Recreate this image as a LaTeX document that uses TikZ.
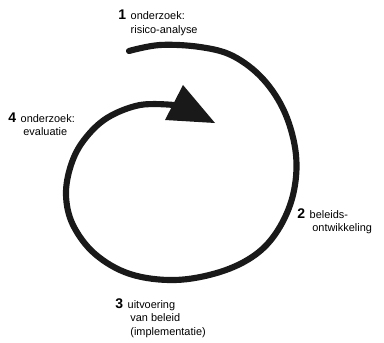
\documentclass[tikz,border=0pt]{standalone}
\usepackage{fontspec}
\setmainfont{Liberation Sans}
\newcommand\nr[1]{{\fontsize{10.5}{12}\selectfont\bfseries #1}}
\tikzset{
  lbl/.style={anchor=base west,inner sep=0pt,font=\fontsize{8.2}{10.2}\selectfont},
  loop/.style={line width=4.6pt,line cap=round,color=black!90}
}
\begin{document}
\begin{tikzpicture}[x=0.75pt,y=-0.75pt]
\useasboundingbox (0,0) rectangle (384,342);
% the cycle
\draw[loop] plot[smooth,tension=0.6] coordinates {(129,51) (160,45) (200,47) (233,56) (263,79) (285,113) (296,155) (293,195) (278,230) (255,255) (220,272) (175,280) (130,274) (95,254) (73,225) (66,195) (71,165) (84,140) (107,118) (140,105) (174,105)};
\fill[black!90] (183,85) -- (215,123) -- (165,120) -- cycle;
% the four steps
\node[lbl] (step1) at (118,20){\begin{tabular}[t]{@{}l@{\hspace{3.5pt}}l@{}}\nr{1} & onderzoek:\\ & risico-analyse\end{tabular}};
\node[lbl] (step2) at (297,218){\begin{tabular}[t]{@{}l@{\hspace{3.5pt}}l@{}}\nr{2} & beleids-\\ & \hspace{2pt}ontwikkeling\end{tabular}};
\node[lbl] (step3) at (115,308){\begin{tabular}[t]{@{}l@{\hspace{3.5pt}}l@{}}\nr{3} & uitvoering\\ & \hspace{2pt}van beleid\\ & \hspace{2pt}(implementatie)\end{tabular}};
\node[lbl] (step4) at (8,122){\begin{tabular}[t]{@{}l@{\hspace{3.5pt}}l@{}}\nr{4} & onderzoek:\\ & \hspace{2pt}evaluatie\end{tabular}};
\end{tikzpicture}
\end{document}
